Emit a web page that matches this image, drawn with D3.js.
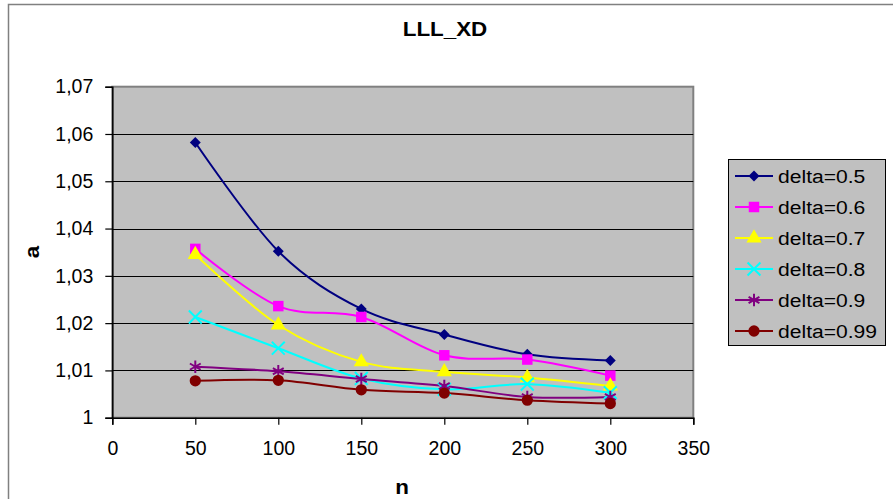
<!DOCTYPE html>
<html>
<head>
<meta charset="utf-8">
<script src="https://cdn.jsdelivr.net/npm/d3@7"></script>
<style>
  html, body { margin: 0; padding: 0; background: #fff; }
  svg { display: block; font-family: "Liberation Sans", Arial, sans-serif; }
</style>
</head>
<body>
<svg id="chart" width="893" height="499"></svg>
<script>
// Sample sizes along the x axis
const nValues = [50, 100, 150, 200, 250, 300];

// Series: value of a for each delta
const delta050 = [1.0582, 1.0352, 1.0230, 1.0176, 1.0134, 1.0121];
const delta060 = [1.0357, 1.0236, 1.0213, 1.0132, 1.0123, 1.0089];
const delta070 = [1.0345, 1.0196, 1.0118, 1.0097, 1.0085, 1.0067];
const delta080 = [1.0213, 1.0147, 1.0083, 1.0060, 1.0071, 1.0053];
const delta090 = [1.0108, 1.0098, 1.0082, 1.0067, 1.0044, 1.0044];
const delta099 = [1.0078, 1.0079, 1.0059, 1.0052, 1.0037, 1.0030];

const seriesNames = ["delta=0.5", "delta=0.6", "delta=0.7", "delta=0.8", "delta=0.9", "delta=0.99"];
const seriesValues = [delta050, delta060, delta070, delta080, delta090, delta099];

const xTicks = [0, 50, 100, 150, 200, 250, 300, 350];
const yTicks = [1, 1.01, 1.02, 1.03, 1.04, 1.05, 1.06, 1.07];

const styles = [
  { color: "#000080", marker: "diamond" },
  { color: "#FF00FF", marker: "square" },
  { color: "#FFFF00", marker: "triangle" },
  { color: "#00FFFF", marker: "x" },
  { color: "#800080", marker: "asterisk" },
  { color: "#800000", marker: "circle" }
];

const svg = d3.select("#chart");

// Outer chart frame
svg.append("rect")
  .attr("x", 8.5).attr("y", 4.5)
  .attr("width", 1000).attr("height", 1000)
  .attr("fill", "#fff").attr("stroke", "#808080").attr("stroke-width", 1.5);

const plot = { left: 112.3, right: 693.3, top: 86.7, bottom: 417.7 };

const x = d3.scaleLinear().domain([0, 350]).range([plot.left, plot.right]);
const y = d3.scaleLinear().domain([1, 1.07]).range([plot.bottom, plot.top]);

const locale = d3.formatLocale({ decimal: ",", thousands: ".", grouping: [3], currency: ["", ""] });
const yFmt = locale.format(".3~g");

// Plot area
svg.append("rect")
  .attr("x", plot.left).attr("y", plot.top)
  .attr("width", plot.right - plot.left).attr("height", plot.bottom - plot.top)
  .attr("fill", "#C0C0C0").attr("stroke", "#808080").attr("stroke-width", 2);

// Horizontal gridlines
svg.append("g")
  .selectAll("line")
  .data(yTicks.filter(v => v > 1 && v < 1.07))
  .join("line")
  .attr("x1", plot.left).attr("x2", plot.right)
  .attr("y1", d => Math.round(y(d)) + 0.5).attr("y2", d => Math.round(y(d)) + 0.5)
  .attr("stroke", "#000").attr("stroke-width", 1.2);

// Axes
const yAxis = svg.append("g")
  .attr("transform", `translate(${plot.left},0)`)
  .call(d3.axisLeft(y).tickValues(yTicks).tickFormat(yFmt).tickSize(7).tickPadding(12));
const xAxis = svg.append("g")
  .attr("transform", `translate(0,${plot.bottom})`)
  .call(d3.axisBottom(x).tickValues(xTicks).tickFormat(d3.format("d")).tickSize(7).tickPadding(16));

[yAxis, xAxis].forEach(g => {
  g.select(".domain").attr("stroke", "#000").attr("stroke-width", 1.5);
  g.selectAll(".tick line").attr("stroke", "#000").attr("stroke-width", 1.2);
  g.selectAll(".tick text")
    .attr("fill", "#000")
    .style("font-family", "'Liberation Sans', Arial, sans-serif")
    .style("font-size", "19.5px");
});

// Titles (slightly widened glyphs)
svg.append("text")
  .attr("transform", "translate(445,36) scale(1.12,1)")
  .attr("text-anchor", "middle")
  .style("font-size", "20px").style("font-weight", "bold")
  .text("LLL_XD");
svg.append("text")
  .attr("transform", "translate(402,494) scale(1.12,1)")
  .attr("text-anchor", "middle")
  .style("font-size", "20px").style("font-weight", "bold")
  .text("n");
svg.append("text")
  .attr("transform", "translate(39,252) rotate(-90) scale(1.12,1)")
  .attr("text-anchor", "middle")
  .style("font-size", "20px").style("font-weight", "bold")
  .text("a");

// Marker drawing
function drawMarker(sel, kind, color) {
  if (kind === "diamond") {
    sel.append("path")
      .attr("d", d3.symbol(d3.symbolSquare, 60)())
      .attr("transform", "rotate(45)")
      .attr("fill", color);
  } else if (kind === "square") {
    sel.append("path")
      .attr("d", d3.symbol(d3.symbolSquare, 110)())
      .attr("fill", color);
  } else if (kind === "triangle") {
    sel.append("path")
      .attr("d", d3.symbol(d3.symbolTriangle, 100)())
      .attr("fill", color);
  } else if (kind === "x") {
    sel.append("path")
      .attr("d", d3.symbol(d3.symbolTimes, 110)())
      .attr("fill", "none").attr("stroke", color).attr("stroke-width", 2);
  } else if (kind === "asterisk") {
    sel.append("path")
      .attr("d", d3.symbol(d3.symbolAsterisk, 110)())
      .attr("fill", "none").attr("stroke", color).attr("stroke-width", 2);
  } else {
    sel.append("path")
      .attr("d", d3.symbol(d3.symbolCircle, 100)())
      .attr("fill", color);
  }
}

const line = d3.line()
  .x((d, i) => x(nValues[i]))
  .y(d => y(d))
  .curve(d3.curveCatmullRom.alpha(0));

// Series lines and markers
seriesValues.forEach((vals, s) => {
  const st = styles[s];
  svg.append("path")
    .datum(vals)
    .attr("d", line)
    .attr("fill", "none")
    .attr("stroke", st.color)
    .attr("stroke-width", 2);
});
seriesValues.forEach((vals, s) => {
  const st = styles[s];
  vals.forEach((v, i) => {
    const g = svg.append("g").attr("transform", `translate(${x(nValues[i])},${y(v)})`);
    drawMarker(g, st.marker, st.color);
  });
});

// Legend
const legend = svg.append("g");
legend.append("rect")
  .attr("x", 728.5).attr("y", 159.5)
  .attr("width", 157).attr("height", 186)
  .attr("fill", "#C0C0C0").attr("stroke", "#000").attr("stroke-width", 1);

seriesNames.forEach((name, s) => {
  const st = styles[s];
  const cy = 176 + s * 31;
  legend.append("line")
    .attr("x1", 735).attr("x2", 773)
    .attr("y1", cy).attr("y2", cy)
    .attr("stroke", st.color).attr("stroke-width", 2);
  const g = legend.append("g").attr("transform", `translate(754,${cy})`);
  drawMarker(g, st.marker, st.color);
  legend.append("text")
    .attr("transform", `translate(778,${cy + 7}) scale(1.11,1)`)
    .style("font-size", "19px")
    .text(name);
});
</script>
</body>
</html>
